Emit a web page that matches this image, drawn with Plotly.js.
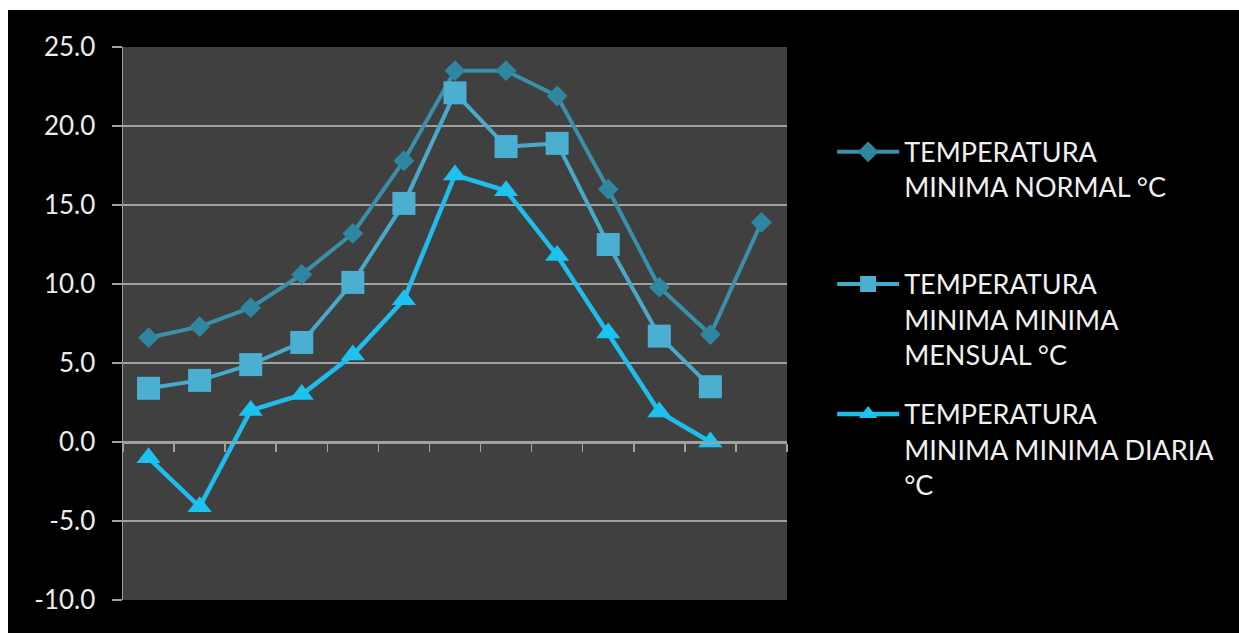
<!DOCTYPE html>
<html>
<head>
<meta charset="utf-8">
<script src="https://cdn.plot.ly/plotly-3.0.1.min.js"></script>
<style>
  html, body { margin: 0; padding: 0; background: #ffffff; }
  #chart { position: absolute; left: 8px; top: 10px; width: 1231px; height: 623px; }
</style>
</head>
<body>
<div id="chart"></div>
<script>
const categories = ["ENE", "FEB", "MAR", "ABR", "MAY", "JUN", "JUL", "AGO", "SEP", "OCT", "NOV", "DIC", "ANUAL"];
const seriesNames = [
  "TEMPERATURA<br>MINIMA NORMAL °C",
  "TEMPERATURA<br>MINIMA MINIMA<br>MENSUAL °C",
  "TEMPERATURA<br>MINIMA MINIMA DIARIA<br>°C"
];
const minimaNormal  = [6.6, 7.3, 8.5, 10.6, 13.2, 17.8, 23.5, 23.5, 21.9, 16.0, 9.8, 6.8, 13.9];
const minimaMensual = [3.4, 3.9, 4.9, 6.3, 10.1, 15.1, 22.1, 18.7, 18.9, 12.5, 6.7, 3.5, null];
const minimaDiaria  = [-1.0, -4.1, 2.0, 3.0, 5.5, 9.0, 16.9, 15.9, 11.8, 6.9, 1.9, 0.0, null];
const yTicks = [-10, -5, 0, 5, 10, 15, 20, 25];
const yTickText = yTicks.map(v => v.toFixed(1));

const traces = [
  {
    x: categories, y: minimaNormal, name: seriesNames[0], type: "scatter", mode: "lines+markers",
    legend: "legend",
    line: { color: "#3a8fab", width: 4 },
    marker: { symbol: "diamond", size: 16, color: "#2f86a1" }
  },
  {
    x: categories, y: minimaMensual, name: seriesNames[1], type: "scatter", mode: "lines+markers",
    legend: "legend2",
    line: { color: "#48aacb", width: 4 },
    marker: { symbol: "square", size: 23, color: "#4aafd1" }
  },
  {
    x: categories, y: minimaDiaria, name: seriesNames[2], type: "scatter", mode: "lines+markers",
    legend: "legend3",
    line: { color: "#1fbdeb", width: 4.5 },
    marker: { symbol: "triangle-up", size: 21, color: "#1ec2f0" }
  }
];

function legendAt(y) {
  return {
    x: 1.068, y: y, xanchor: "left", yanchor: "top",
    font: { size: 27, color: "#f0f0f0" },
    bgcolor: "rgba(0,0,0,0)",
    valign: "top",
    itemwidth: 62
  };
}

const layout = {
  width: 1231, height: 623,
  paper_bgcolor: "#000000",
  plot_bgcolor: "#404040",
  margin: { l: 115, r: 452, t: 37, b: 33 },
  font: { family: "Lato, 'Open Sans', sans-serif", color: "#ececec", size: 22 },
  showlegend: true,
  legend: legendAt(0.854),
  legend2: legendAt(0.615),
  legend3: legendAt(0.380),
  xaxis: {
    type: "category",
    anchor: "free", position: (0 - (-10)) / 35,
    showline: true, linecolor: "#a0a0a0", linewidth: 1.5,
    ticks: "outside", tickson: "boundaries", ticklen: 8, tickcolor: "#a0a0a0", tickwidth: 1.5,
    showticklabels: false, showgrid: false, zeroline: false,
    range: [-0.5, 12.5]
  },
  yaxis: {
    range: [-10, 25], tickmode: "array", tickvals: yTicks, ticktext: yTickText,
    showline: true, linecolor: "#a0a0a0", linewidth: 1.5,
    ticks: "outside", ticklen: 10, tickcolor: "#a0a0a0", tickwidth: 1.5,
    ticklabelstandoff: 11,
    showgrid: true, gridcolor: "#a0a0a0", gridwidth: 1.5,
    zeroline: false,
    tickfont: { size: 26, color: "#ececec" }
  }
};

Plotly.newPlot("chart", traces, layout, { displayModeBar: false, staticPlot: true });
</script>
</body>
</html>
